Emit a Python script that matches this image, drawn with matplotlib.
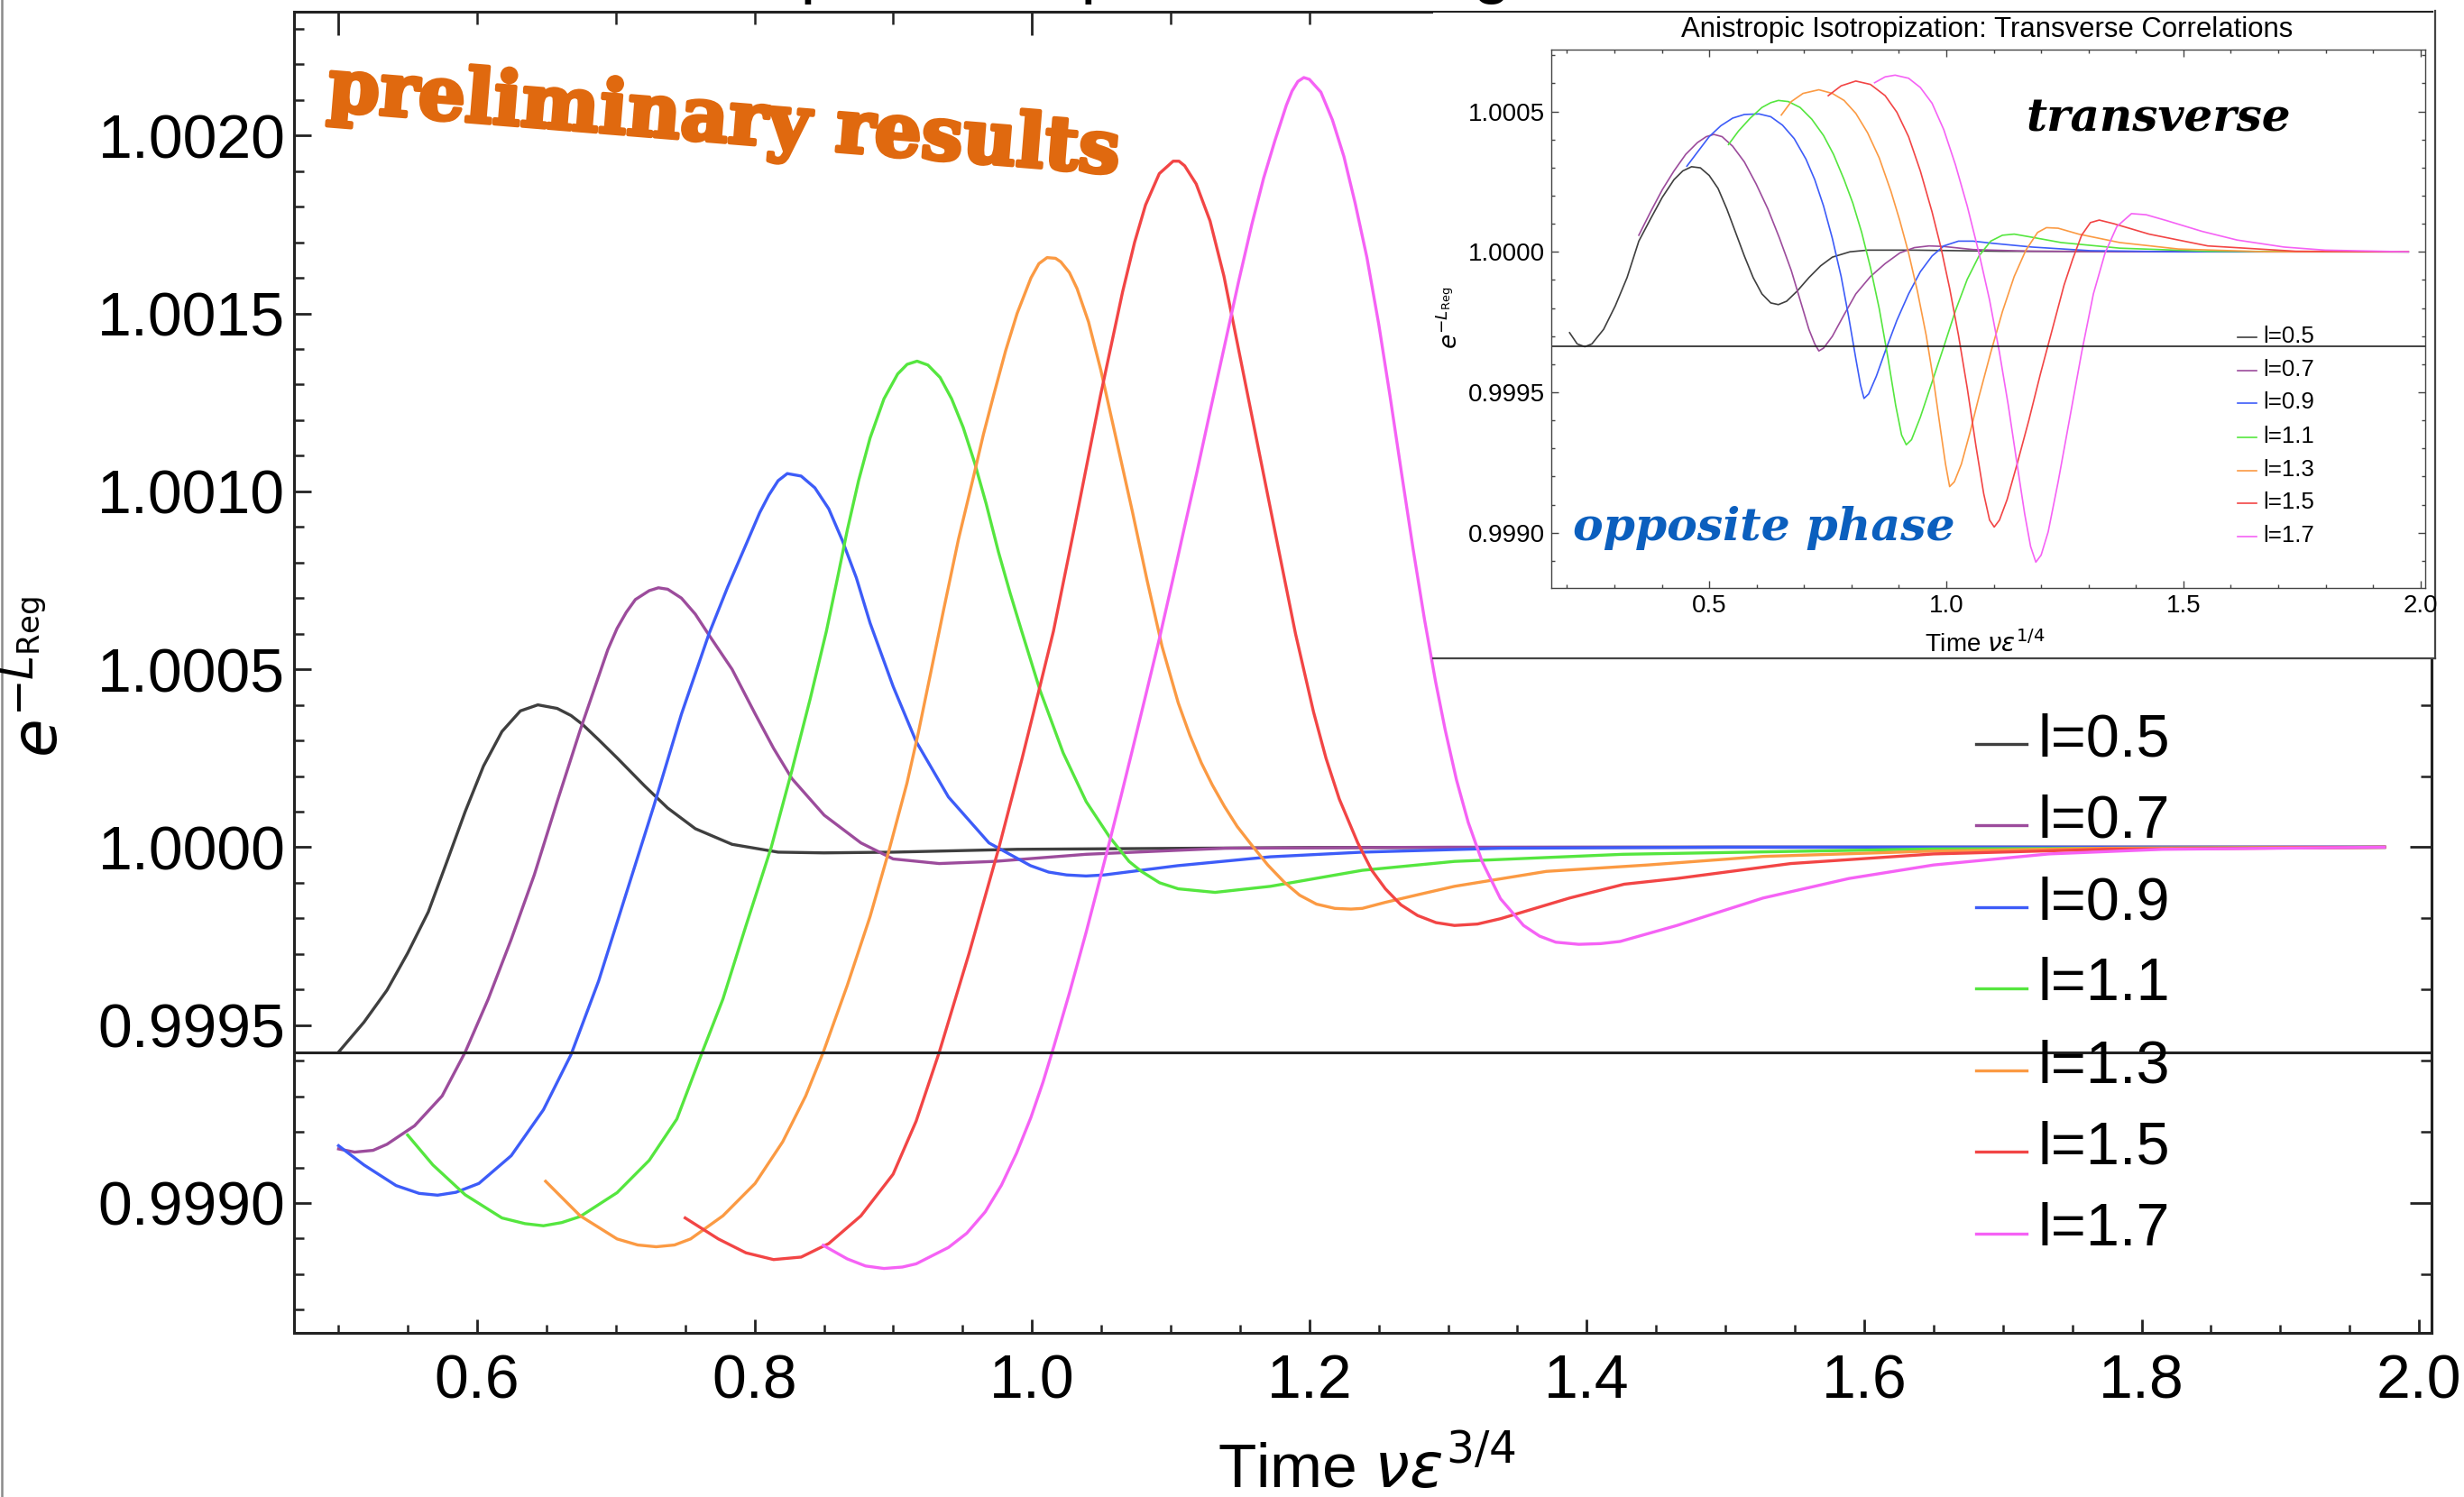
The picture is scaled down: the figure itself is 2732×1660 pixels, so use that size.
import numpy as np
import matplotlib.pyplot as plt
import matplotlib.patheffects as pe
from matplotlib.ticker import MultipleLocator, FormatStrFormatter, NullFormatter
from matplotlib.lines import Line2D
from matplotlib.patches import Rectangle

plt.rcParams['font.family'] = ['Liberation Sans', 'DejaVu Sans']
plt.rcParams['mathtext.fontset'] = 'dejavusans'

W, H = 2732, 1660
DPI = 200

labels = ['l=0.5', 'l=0.7', 'l=0.9', 'l=1.1', 'l=1.3', 'l=1.5', 'l=1.7']
colors = ['#3f3f3f', '#9c4c9c', '#3d5cf8', '#55e63f', '#fb9a43', '#f24545', '#f562f5']

# longitudinal correlations (main panel)
xl_05 = [0.5001, 0.5184, 0.5350, 0.5499, 0.5648, 0.5781, 0.5914, 0.6046, 0.6179, 0.6312,
         0.6438, 0.6577, 0.6677, 0.6760, 0.6876, 0.7009, 0.7208, 0.7374, 0.7573, 0.7838,
         0.8170, 0.850, 0.900, 0.989, 1.200, 1.500, 1.975]
yl_05 = [0.999424, 0.999508, 0.999598, 0.999702, 0.999818, 0.999958, 1.000100, 1.000228,
         1.000325, 1.000383, 1.000400, 1.000390, 1.000370, 1.000345, 1.000302, 1.000251,
         1.000172, 1.000110, 1.000052, 1.000008, 0.999986, 0.999984, 0.999986, 0.999994,
         0.999999, 1.0, 1.0]

xl_07 = [0.5001, 0.5117, 0.5250, 0.5350, 0.5549, 0.5748, 0.5914, 0.6080, 0.6246, 0.6412,
         0.6578, 0.6743, 0.6942, 0.7009, 0.7075, 0.7141, 0.7241, 0.7307, 0.7374, 0.7473,
         0.7573, 0.7672, 0.7838, 0.8004, 0.8137, 0.8269, 0.8502, 0.8767, 0.8999, 0.9331,
         0.9729, 1.039, 1.139, 1.300, 1.975]
yl_07 = [0.999152, 0.999143, 0.999148, 0.999165, 0.999217, 0.999301, 0.999424, 0.999573,
         0.999741, 0.999922, 1.000129, 1.000329, 1.000555, 1.000615, 1.000660, 1.000696,
         1.000721, 1.000729, 1.000725, 1.000700, 1.000655, 1.000596, 1.000500, 1.000375,
         1.000278, 1.000193, 1.000090, 1.000012, 0.999967, 0.999954, 0.999960, 0.999980,
         0.999997, 1.0, 1.0]

xl_09 = [0.5001, 0.5184, 0.5416, 0.5582, 0.5715, 0.5847, 0.6013, 0.6246, 0.6478, 0.6677,
         0.6876, 0.7075, 0.7274, 0.7473, 0.7672, 0.7805, 0.7938, 0.8037, 0.8104, 0.8170,
         0.8236, 0.8336, 0.8435, 0.8535, 0.8634, 0.8734, 0.8833, 0.8999, 0.9165, 0.9398,
         0.9690, 0.999, 1.012, 1.025, 1.039, 1.052, 1.105, 1.172, 1.238, 1.338, 1.500, 1.975]
yl_09 = [0.999161, 0.999107, 0.999049, 0.999027, 0.999022, 0.999030, 0.999055, 0.999133,
         0.999262, 0.999417, 0.999624, 0.999870, 1.000116, 1.000374, 1.000600, 1.000730,
         1.000850, 1.000940, 1.000990, 1.001030, 1.001050, 1.001043, 1.001010, 1.000951,
         1.000861, 1.000757, 1.000630, 1.000452, 1.000297, 1.000141, 1.000012, 0.999948,
         0.999930, 0.999922, 0.999919, 0.999922, 0.999948, 0.999973, 0.999986, 0.999997,
         1.0, 1.0]

xl_11 = [0.5499, 0.5681, 0.5914, 0.6179, 0.6345, 0.6478, 0.6610, 0.6743, 0.7009, 0.7241,
         0.7440, 0.7622, 0.7772, 0.7938, 0.8120, 0.8269, 0.8402, 0.8518, 0.8600, 0.8668,
         0.8750, 0.8833, 0.8933, 0.9032, 0.9100, 0.9172, 0.9250, 0.9338, 0.9421, 0.9504,
         0.9587, 0.9670, 0.9759, 0.9842, 0.9926, 1.0059, 1.0225, 1.0391, 1.0557, 1.0700,
         1.0789, 1.0920, 1.1055, 1.1320, 1.1719, 1.2382, 1.3046, 1.426, 1.650, 1.975]
yl_11 = [0.999191, 0.999107, 0.999023, 0.998958, 0.998942, 0.998936, 0.998945, 0.998962,
         0.999029, 0.999120, 0.999236, 0.999423, 0.999573, 0.999779, 0.999999, 1.000215,
         1.000418, 1.000607, 1.000760, 1.000890, 1.001030, 1.001150, 1.001260, 1.001330,
         1.001357, 1.001366, 1.001355, 1.001320, 1.001260, 1.001180, 1.001080, 1.000965,
         1.000829, 1.000715, 1.000607, 1.000440, 1.000265, 1.000128, 1.000030, 0.999960,
         0.999932, 0.999900, 0.999883, 0.999873, 0.999890, 0.999935, 0.999960, 0.999980,
         0.999995, 1.0]

xl_13 = [0.6494, 0.6743, 0.7009, 0.7158, 0.7291, 0.7423, 0.7539, 0.7772, 0.8004, 0.8203,
         0.8369, 0.8495, 0.8668, 0.8833, 0.8966, 0.9099, 0.9180, 0.9270, 0.9362, 0.9470,
         0.9578, 0.9650, 0.9727, 0.9810, 0.9893, 0.9993, 1.0050, 1.0109, 1.0170, 1.0208,
         1.0270, 1.0325, 1.0408, 1.0497, 1.0600, 1.0723, 1.0830, 1.0938, 1.1055, 1.1138,
         1.1221, 1.1300, 1.1387, 1.1480, 1.1586, 1.1700, 1.1818, 1.1930, 1.2051, 1.2183,
         1.2300, 1.2382, 1.2548, 1.2800, 1.3046, 1.3709, 1.444, 1.527, 1.650, 1.774, 1.975]
yl_13 = [0.999061, 0.998964, 0.998899, 0.998882, 0.998877, 0.998882, 0.998899, 0.998964,
         0.999055, 0.999172, 0.999301, 0.999423, 0.999611, 0.999805, 0.999986, 1.000180,
         1.000320, 1.000490, 1.000665, 1.000865, 1.001040, 1.001160, 1.001275, 1.001395,
         1.001500, 1.001600, 1.001640, 1.001657, 1.001655, 1.001645, 1.001615, 1.001570,
         1.001476, 1.001340, 1.001160, 1.000945, 1.000750, 1.000564, 1.000405, 1.000315,
         1.000237, 1.000175, 1.000115, 1.000058, 1.000005, 0.999950, 0.999902, 0.999865,
         0.999840, 0.999828, 0.999826, 0.999828, 0.999845, 0.999868, 0.999890, 0.999932,
         0.999950, 0.999974, 0.999989, 0.999997, 1.0]

xl_15 = [0.7500, 0.7739, 0.7938, 0.8137, 0.8336, 0.8535, 0.8767, 0.8999, 0.9165, 0.9331,
         0.9547, 0.9762, 0.9926, 1.0009, 1.0155, 1.0304, 1.0494, 1.0653, 1.0740, 1.0819,
         1.0918, 1.1018, 1.1060, 1.1101, 1.1184, 1.1284, 1.1384, 1.1583, 1.1782, 1.1900,
         1.2030, 1.2120, 1.2216, 1.2349, 1.2450, 1.2548, 1.2660, 1.2780, 1.2913, 1.3046,
         1.3212, 1.3378, 1.3875, 1.427, 1.465, 1.547, 1.650, 1.774, 1.975]
yl_15 = [0.998958, 0.998899, 0.998860, 0.998841, 0.998848, 0.998886, 0.998964, 0.999081,
         0.999230, 0.999423, 0.999702, 0.999999, 1.000245, 1.000375, 1.000607, 1.000894,
         1.001269, 1.001560, 1.001700, 1.001805, 1.001893, 1.001928, 1.001928, 1.001915,
         1.001864, 1.001760, 1.001605, 1.001217, 1.000829, 1.000600, 1.000380, 1.000250,
         1.000135, 1.000012, 0.999935, 0.999883, 0.999838, 0.999808, 0.999788, 0.999780,
         0.999784, 0.999799, 0.999857, 0.999896, 0.999912, 0.999954, 0.999981, 0.999994, 1.0]

xl_17 = [0.8495, 0.8668, 0.8800, 0.8933, 0.9066, 0.9165, 0.9398, 0.9530, 0.9663, 0.9780,
         0.9889, 0.9992, 1.0080, 1.0158, 1.0270, 1.0390, 1.0470, 1.0556, 1.0640, 1.0722,
         1.0822, 1.0921, 1.1020, 1.1100, 1.1187, 1.1290, 1.1386, 1.1490, 1.1585, 1.1670,
         1.1751, 1.1834, 1.1875, 1.1917, 1.1960, 1.2000, 1.2083, 1.2166, 1.2249, 1.2330,
         1.2415, 1.2500, 1.2581, 1.2665, 1.2747, 1.2830, 1.2910, 1.2979, 1.3060, 1.3145,
         1.3245, 1.3378, 1.3544, 1.3660, 1.3776, 1.3942, 1.4100, 1.4240, 1.4650, 1.5270,
         1.5890, 1.6500, 1.7330, 1.8150, 1.975]
yl_17 = [0.998881, 0.998843, 0.998823, 0.998816, 0.998820, 0.998829, 0.998875, 0.998915,
         0.998975, 0.999050, 0.999140, 0.999240, 0.999340, 0.999440, 0.999590, 0.999760,
         0.999880, 1.000010, 1.000140, 1.000270, 1.000430, 1.000590, 1.000760, 1.000900,
         1.001050, 1.001235, 1.001405, 1.001590, 1.001750, 1.001880, 1.001985, 1.002085,
         1.002125, 1.002152, 1.002163, 1.002158, 1.002122, 1.002044, 1.001941, 1.001810,
         1.001657, 1.001470, 1.001269, 1.001050, 1.000840, 1.000640, 1.000465, 1.000330,
         1.000190, 1.000070, 0.999960, 0.999855, 0.999780, 0.999750, 0.999733, 0.999727,
         0.999729, 0.999735, 0.999780, 0.999857, 0.999912, 0.999950, 0.999981, 0.999994, 1.0]

# transverse correlations (inset)
xt_05 = [0.2056, 0.2217, 0.2378, 0.2526, 0.2774, 0.3021, 0.3268, 0.3516, 0.3763, 0.4011,
         0.4258, 0.4443, 0.4629, 0.4814, 0.5000, 0.5186, 0.5371, 0.5557, 0.5742, 0.5928,
         0.6113, 0.6299, 0.6459, 0.6633, 0.6855, 0.7103, 0.7350, 0.7597, 0.7968, 0.8340,
         0.9329, 1.1184, 1.9743]
yt_05 = [0.999712, 0.999672, 0.999662, 0.999672, 0.999724, 0.999808, 0.999908, 1.000038,
         1.000117, 1.000194, 1.000257, 1.000288, 1.000303, 1.000299, 1.000272, 1.000226,
         1.000153, 1.000069, 0.999985, 0.999908, 0.999850, 0.999818, 0.999812, 0.999824,
         0.999860, 0.999908, 0.999950, 0.999981, 1.0, 1.000006, 1.000006, 1.000002, 1.0]

xt_07 = [0.3516, 0.3763, 0.4011, 0.4258, 0.4505, 0.4753, 0.4938, 0.5099, 0.5272, 0.5495,
         0.5742, 0.5989, 0.6237, 0.6484, 0.6732, 0.6917, 0.7103, 0.7226, 0.7313, 0.7412,
         0.7597, 0.7845, 0.8092, 0.8401, 0.8711, 0.9020, 0.9329, 0.9638, 0.9947, 1.0566,
         1.1803, 1.3658, 1.9743]
yt_07 = [1.000059, 1.000142, 1.000221, 1.000288, 1.000347, 1.000389, 1.000410, 1.000418,
         1.000410, 1.000376, 1.000320, 1.000242, 1.000153, 1.000048, 0.999933, 0.999829,
         0.999724, 0.999672, 0.999647, 0.999657, 0.999699, 0.999776, 0.999850, 0.999912,
         0.999958, 0.999996, 1.000015, 1.000021, 1.000019, 1.000008, 1.000002, 1.0, 1.0]

xt_09 = [0.4530, 0.4753, 0.5000, 0.5247, 0.5495, 0.5742, 0.6051, 0.6299, 0.6546, 0.6793,
         0.7041, 0.7226, 0.7412, 0.7597, 0.7783, 0.7944, 0.8092, 0.8191, 0.8265, 0.8364,
         0.8525, 0.8711, 0.8958, 0.9205, 0.9453, 0.9700, 0.9947, 1.0257, 1.0566, 1.0937,
         1.1803, 1.3040, 1.4895, 1.9743]
yt_09 = [1.000305, 1.000355, 1.000410, 1.000449, 1.000476, 1.000489, 1.000491, 1.000481,
         1.000451, 1.000403, 1.000330, 1.000257, 1.000163, 1.000048, 0.999912, 0.999766,
         0.999620, 0.999526, 0.999478, 0.999494, 0.999557, 0.999645, 0.999756, 0.999850,
         0.999929, 0.999985, 1.000021, 1.000038, 1.000038, 1.000031, 1.000017, 1.000004,
         1.0, 1.0]

xt_11 = [0.5408, 0.5618, 0.5866, 0.6113, 0.6299, 0.6459, 0.6670, 0.6917, 0.7165, 0.7412,
         0.7622, 0.7845, 0.8030, 0.8216, 0.8401, 0.8587, 0.8772, 0.8933, 0.9057, 0.9156,
         0.9267, 0.9453, 0.9700, 0.9947, 1.0195, 1.0442, 1.0689, 1.0937, 1.1184, 1.1432,
         1.1803, 1.2421, 1.3658, 1.5513, 1.9743]
yt_11 = [1.000382, 1.000430, 1.000476, 1.000514, 1.000531, 1.000539, 1.000535, 1.000514,
         1.000472, 1.000414, 1.000347, 1.000257, 1.000173, 1.000069, 0.999944, 0.999797,
         0.999620, 0.999453, 0.999348, 0.999313, 0.999331, 0.999411, 0.999536, 0.999662,
         0.999791, 0.999902, 0.999985, 1.000038, 1.000059, 1.000063, 1.000052, 1.000033,
         1.000013, 1.000002, 1.0]

xt_13 = [0.6521, 0.6732, 0.6979, 0.7313, 0.7597, 0.7845, 0.8092, 0.8340, 0.8587, 0.8834,
         0.9020, 0.9205, 0.9391, 0.9576, 0.9737, 0.9885, 0.9984, 1.0071, 1.0170, 1.0318,
         1.0504, 1.0689, 1.0937, 1.1184, 1.1432, 1.1679, 1.1926, 1.2112, 1.2359, 1.2792,
         1.3658, 1.4895, 1.6750, 1.9743]
yt_13 = [1.000487, 1.000535, 1.000564, 1.000577, 1.000564, 1.000539, 1.000493, 1.000424,
         1.000334, 1.000215, 1.000111, 0.999996, 0.999860, 0.999703, 0.999536, 0.999359,
         0.999244, 0.999164, 0.999181, 0.999244, 0.999359, 0.999484, 0.999641, 0.999787,
         0.999912, 1.000006, 1.000069, 1.000086, 1.000084, 1.000063, 1.000033, 1.000010,
         1.0, 1.0]

xt_15 = [0.7511, 0.7783, 0.8092, 0.8401, 0.8711, 0.8958, 0.9205, 0.9453, 0.9700, 0.9885,
         1.0071, 1.0257, 1.0442, 1.0628, 1.0789, 1.0913, 1.1011, 1.1122, 1.1283, 1.1493,
         1.1741, 1.1988, 1.2236, 1.2483, 1.2668, 1.2854, 1.3040, 1.3226, 1.3535, 1.4277,
         1.5513, 1.7369, 1.9743]
yt_15 = [1.000556, 1.000591, 1.000608, 1.000596, 1.000556, 1.000497, 1.000410, 1.000288,
         1.000142, 1.000017, 0.999870, 0.999703, 0.999515, 0.999306, 0.999139, 0.999045,
         0.999020, 0.999045, 0.999118, 0.999244, 0.999400, 0.999567, 0.999724, 0.999881,
         0.999975, 1.000059, 1.000104, 1.000113, 1.000100, 1.000063, 1.000021, 1.000002, 1.0]

xt_17 = [0.8488, 0.8711, 0.8921, 0.9205, 0.9453, 0.9700, 0.9947, 1.0195, 1.0442, 1.0689,
         1.0912, 1.1122, 1.1308, 1.1493, 1.1654, 1.1778, 1.1889, 1.2000, 1.2149, 1.2359,
         1.2607, 1.2854, 1.3102, 1.3349, 1.3597, 1.3906, 1.4215, 1.4648, 1.5390, 1.6132,
         1.7121, 1.7987, 1.9743]
yt_17 = [1.000602, 1.000623, 1.000629, 1.000618, 1.000585, 1.000529, 1.000435, 1.000309,
         1.000163, 0.999996, 0.999829, 0.999641, 0.999453, 0.999244, 0.999066, 0.998951,
         0.998895, 0.998920, 0.999003, 0.999181, 0.999411, 0.999641, 0.999850, 0.999996,
         1.000090, 1.000136, 1.000132, 1.000111, 1.000073, 1.000042, 1.000017, 1.000006, 1.0]

long_x = [xl_05, xl_07, xl_09, xl_11, xl_13, xl_15, xl_17]
long_y = [yl_05, yl_07, yl_09, yl_11, yl_13, yl_15, yl_17]
trans_x = [xt_05, xt_07, xt_09, xt_11, xt_13, xt_15, xt_17]
trans_y = [yt_05, yt_07, yt_09, yt_11, yt_13, yt_15, yt_17]


def fx(px):
    return px / W


def fy(py):
    return 1 - py / H


fig = plt.figure(figsize=(W / DPI, H / DPI), dpi=DPI)

# ---- main panel ----
ax = fig.add_axes([fx(326), fy(1478), fx(2696) - fx(326), fy(13) - fy(1478)])
for xs, ys, c in zip(long_x, long_y, colors):
    ax.plot(xs, ys, color=c, lw=1.2, solid_joinstyle='round')
ax.axhline(yl_05[0], color='#222222', lw=1.1)
ax.set_xlim(0.468, 2.009)
ax.set_ylim(0.998635, 1.002348)

ax.xaxis.set_major_locator(MultipleLocator(0.2))
ax.xaxis.set_minor_locator(MultipleLocator(0.05))
ax.yaxis.set_major_locator(MultipleLocator(0.0005))
ax.yaxis.set_minor_locator(MultipleLocator(0.0001))
ax.xaxis.set_major_formatter(FormatStrFormatter('%.1f'))
ax.yaxis.set_major_formatter(FormatStrFormatter('%.4f'))
ax.tick_params(axis='both', which='both', direction='in', colors='#222222', labelcolor='black')
ax.tick_params(axis='x', which='major', length=5.5, width=1.0, labelsize=24.5, pad=8)
ax.tick_params(axis='x', which='minor', length=3.2, width=0.9)
ax.tick_params(axis='y', which='major', length=7, width=1.0, labelsize=24.5, pad=3.5)
ax.tick_params(axis='y', which='minor', length=4, width=0.9)
for s in ax.spines.values():
    s.set_linewidth(1.1)
    s.set_color('#222222')

# frame ticks on top and right use their own spacing
top = ax.secondary_xaxis('top')
top.xaxis.set_major_locator(MultipleLocator(0.5))
top.xaxis.set_minor_locator(MultipleLocator(0.1))
top.xaxis.set_major_formatter(NullFormatter())
top.tick_params(which='both', direction='in', colors='#222222')
top.tick_params(which='major', length=9.5, width=1.0)
top.tick_params(which='minor', length=5, width=0.9)
top.spines['top'].set_linewidth(1.0)

right = ax.secondary_yaxis('right')
right.yaxis.set_major_locator(MultipleLocator(0.001))
right.yaxis.set_minor_locator(MultipleLocator(0.0002))
right.yaxis.set_major_formatter(NullFormatter())
right.tick_params(which='both', direction='in', colors='#222222')
right.tick_params(which='major', length=8.5, width=1.0)
right.tick_params(which='minor', length=4.5, width=0.9)
right.spines['right'].set_linewidth(1.1)

fig.text(fx(44), fy(751), r'$e^{-L_{\mathrm{Reg}}}$', rotation=90, ha='center', va='center',
         fontsize=25)
fig.text(fx(1515), fy(1630), r'Time $\nu\epsilon^{3/4}$', ha='center', va='center', fontsize=25)

# title sits above the canvas edge, only the descenders reach into view
fig.text(fx(649), fy(-11), 'Anistropic Isotropization: Longitudinal Correlations',
         ha='left', va='baseline', fontsize=27.6, zorder=10)

# legend of the main panel
row_y = [838, 928, 1019, 1109, 1200, 1290, 1381]
for lab, c, yb in zip(labels, colors, row_y):
    fig.add_artist(Line2D([fx(2191), fx(2247)], [fy(yb - 13), fy(yb - 13)], color=c, lw=1.2))
    fig.text(fx(2259), fy(yb), lab, ha='left', va='baseline', fontsize=24)

orange = '#e0690f'
fig.text(fx(362), fy(122), 'preliminary results', rotation=-4.6, rotation_mode='anchor',
         ha='left', va='baseline', fontsize=29.5, fontweight='bold', family='DejaVu Serif',
         color=orange, path_effects=[pe.withStroke(linewidth=1.6, foreground=orange)])

# ---- transverse inset ----
fig.add_artist(Rectangle((fx(1589), fy(730)), fx(2700) - fx(1589), fy(14) - fy(730),
                         transform=fig.transFigure, facecolor='white', edgecolor='none', zorder=1))
fig.add_artist(Line2D([fx(1589), fx(2700)], [fy(730), fy(730)], color='#444444', lw=0.8, zorder=3))
fig.add_artist(Line2D([fx(2700), fx(2700)], [fy(12), fy(730)], color='#444444', lw=0.8, zorder=3))
fig.add_artist(Line2D([fx(2), fx(2)], [0, 1], color='#8a8a8a', lw=0.9, zorder=3))

ins = fig.add_axes([fx(1720), fy(652), fx(2689) - fx(1720), fy(55) - fy(652)], zorder=4)
for xs, ys, c in zip(trans_x, trans_y, colors):
    ins.plot(xs, ys, color=c, lw=0.6, solid_joinstyle='round')
ins.axhline(min(yt_05), color='#222222', lw=0.6)
ins.set_xlim(0.167, 2.01)
ins.set_ylim(0.998803, 1.00072)
ins.xaxis.set_major_locator(MultipleLocator(0.5))
ins.xaxis.set_minor_locator(MultipleLocator(0.1))
ins.yaxis.set_major_locator(MultipleLocator(0.0005))
ins.yaxis.set_minor_locator(MultipleLocator(0.0001))
ins.xaxis.set_major_formatter(FormatStrFormatter('%.1f'))
ins.yaxis.set_major_formatter(FormatStrFormatter('%.4f'))
ins.tick_params(which='both', direction='in', top=True, right=True, colors='#444444',
                labelcolor='black', labelsize=10)
ins.tick_params(which='major', length=3, width=0.5, pad=2.5)
ins.tick_params(which='minor', length=1.6, width=0.5)
for s in ins.spines.values():
    s.set_linewidth(0.5)
    s.set_color('#444444')

fig.text(fx(2203), fy(33), 'Anistropic Isotropization: Transverse Correlations',
         ha='center', va='center', fontsize=11.2, zorder=5)
fig.text(fx(2201), fy(714), r'Time $\nu\epsilon^{1/4}$', ha='center', va='center',
         fontsize=10, zorder=5)
fig.text(fx(1607), fy(352), r'$e^{-L_{\mathrm{Reg}}}$', rotation=90, ha='center', va='center',
         fontsize=9.5, zorder=5)

ins_rows = [380, 417, 453, 491, 528, 564, 601]
for lab, c, yb in zip(labels, colors, ins_rows):
    fig.add_artist(Line2D([fx(2481), fx(2502)], [fy(yb - 6), fy(yb - 6)], color=c, lw=0.6, zorder=5))
    fig.text(fx(2509), fy(yb), lab, ha='left', va='baseline', fontsize=9.3, zorder=5)

fig.text(fx(2393), fy(146), 'transverse', ha='center', va='baseline', fontsize=18,
         fontweight='bold', fontstyle='italic', family='DejaVu Serif', color='black', zorder=5)
fig.text(fx(1956), fy(599), 'opposite phase', ha='center', va='baseline', fontsize=18.2,
         fontweight='bold', fontstyle='italic', family='DejaVu Serif', color='#0b5fbe', zorder=5)

fig.savefig('out.png', dpi=DPI)
